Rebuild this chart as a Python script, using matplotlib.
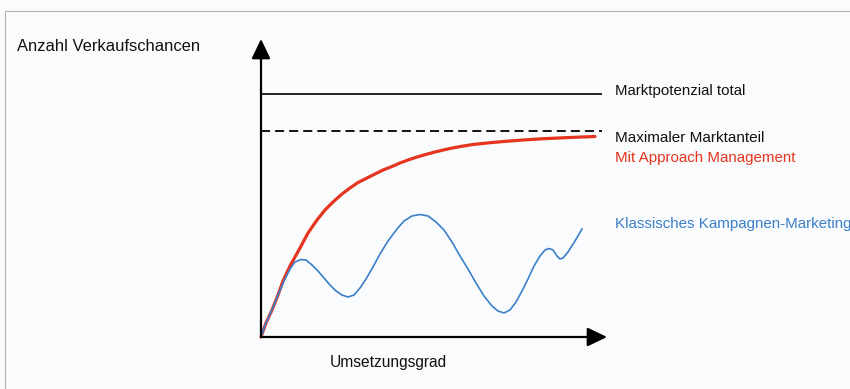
import matplotlib
matplotlib.use("Agg")
import matplotlib.pyplot as plt

# ---- data (offsets from origin) ----
red_x = [0, 5, 11, 17, 22, 29, 39, 47, 56, 64, 72, 81, 89, 97, 106, 114, 122, 131,
         139, 147, 156, 164, 172, 181, 189, 200, 212, 229, 246, 262, 279, 306, 334]
red_y = [0, 14, 27, 42, 56, 71, 89, 104, 117, 127, 135, 143, 149, 154.5, 159, 163, 167, 170.5,
         174, 177, 180, 182.3, 184.5, 186.7, 188.5, 190.6, 192.5, 194.3, 195.8, 197, 198.1, 199.4, 200.5]

blue_x = [0, 5, 11, 17, 23, 29, 34, 40, 45, 51, 57, 63, 69, 75, 81, 87, 93, 99, 105, 112,
          119, 127, 136, 143, 151, 159, 167, 175, 183, 191, 199, 207, 215, 223, 231, 237,
          243, 249, 255, 261, 267, 273, 279, 284, 288, 292, 296, 299, 302, 307, 314, 321]
blue_y = [0, 14, 27, 42, 56, 68, 75, 77.5, 77, 72, 66, 59, 52, 46, 42, 40, 42, 49, 58, 70,
          83, 96, 108, 116, 121, 122.5, 121, 115, 107, 95, 81, 68, 54, 41, 31, 26,
          24, 27, 35, 46, 58, 71, 81, 87, 88.5, 87, 81, 78, 79, 85, 96, 108]

markt_total = 243
max_anteil = 206
line_end = 341
x_axis_end = 346
y_axis_end = 298

labels = {
    "y": "Anzahl Verkaufschancen",
    "x": "Umsetzungsgrad",
    "total": "Marktpotenzial total",
    "max": "Maximaler Marktanteil",
    "approach": "Mit Approach Management",
    "klassisch": "Klassisches Kampagnen-Marketing",
}

FONT = "Liberation Sans"
RED = "#e5341f"
BLUE = "#3b7fca"
BG = "#fafbfc"

fig = plt.figure(figsize=(8.5, 3.89), dpi=100, facecolor=BG)
ax = fig.add_axes([0, 0, 1, 1])
ax.set_facecolor(BG)
ax.set_xlim(-261, 589)
ax.set_ylim(-52, 337)
ax.axis("off")

# frame of scanned figure (top and left)
fig.add_artist(plt.Line2D([5 / 850, 1], [1 - 11 / 389] * 2, color="#b5b5b5", lw=0.8))
fig.add_artist(plt.Line2D([5 / 850] * 2, [0, 1 - 11 / 389], color="#b5b5b5", lw=0.8))

# reference lines
ax.plot([0, line_end], [markt_total] * 2, color="black", lw=1.2, solid_capstyle="butt")
ax.plot([0, line_end], [max_anteil] * 2, color="black", lw=1.3, ls=(0, (5, 2.8)))

# curves
ax.plot(red_x, red_y, color=RED, lw=2.3, solid_capstyle="round", solid_joinstyle="round", zorder=3)
ax.plot(blue_x, blue_y, color=BLUE, lw=1.2, solid_joinstyle="round", zorder=4)

# axes with arrows
arrow = dict(arrowstyle="-|>,head_length=1.0,head_width=0.48", mutation_scale=12,
             color="black", lw=1.6, shrinkA=0, shrinkB=0)
ax.annotate("", xy=(x_axis_end, 0), xytext=(0, 0), arrowprops=arrow, zorder=5)
ax.annotate("", xy=(0, y_axis_end), xytext=(0, 0), arrowprops=arrow, zorder=5)

# texts
ax.text(-244, 291, labels["y"], family=FONT, fontsize=11.9, va="center", ha="left", color="#111")
ax.text(127, -26, labels["x"], family=FONT, fontsize=11.2, va="center", ha="center", color="#111")
ax.text(354, 246, labels["total"], family=FONT, fontsize=10.8, va="center", ha="left", color="#111")
ax.text(354, 199, labels["max"], family=FONT, fontsize=11.0, va="center", ha="left", color="#111")
ax.text(354, 179, labels["approach"], family=FONT, fontsize=10.9, va="center", ha="left", color=RED)
ax.text(354, 113, labels["klassisch"], family=FONT, fontsize=10.9, va="center", ha="left", color=BLUE)

fig.savefig("out.png", dpi=100, facecolor=BG)
